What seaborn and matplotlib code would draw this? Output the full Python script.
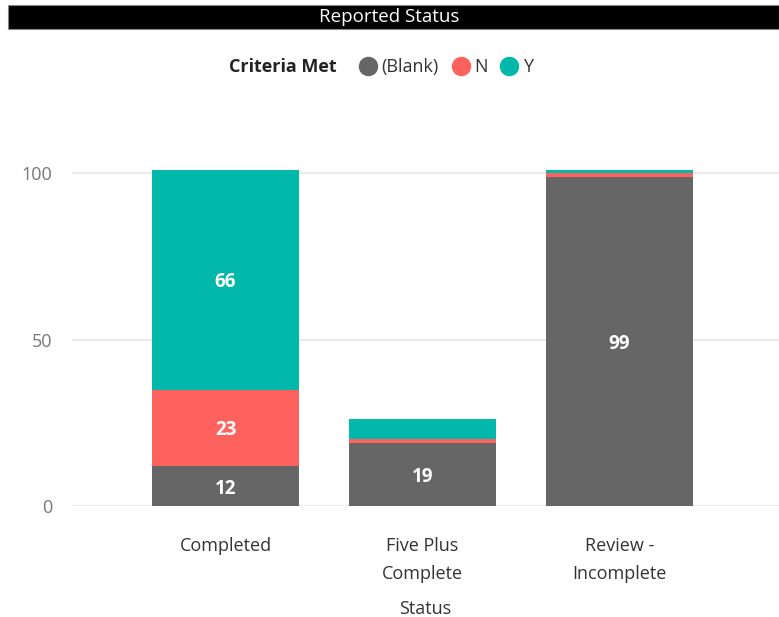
import pandas as pd
import seaborn as sns
import matplotlib.pyplot as plt
from matplotlib.patches import Rectangle
from matplotlib.lines import Line2D

# data
statuses = ['Completed', 'Five Plus\nComplete', 'Review -\nIncomplete']
blank = [12, 19, 99]
n_vals = [23, 1, 1]
y_vals = [66, 6, 1]
series = ['(Blank)', 'N', 'Y']
colors = ['#666666', '#FD625E', '#01B8AA']

sns.set_theme(style='white')
plt.rcParams['font.family'] = ['Open Sans', 'DejaVu Sans']

df = pd.DataFrame({'Status': statuses, 'Blank': blank, 'N': n_vals, 'Y': y_vals})
df['top_n'] = df['Blank'] + df['N']
df['top_y'] = df['top_n'] + df['Y']

fig = plt.figure(figsize=(7.79, 6.17), dpi=100)
ax = fig.add_axes([72 / 779, 1 - 506 / 617, 1 - 72 / 779, (506 - 150) / 617])

# stacked by drawing cumulative totals on top of each other
for col, c, z in [('top_y', colors[2], 2), ('top_n', colors[1], 3), ('Blank', colors[0], 4)]:
    sns.barplot(data=df, x='Status', y=col, color=c, width=0.75,
                saturation=1, linewidth=0, ax=ax, zorder=z)

ax.set_xlim(-0.78, 2.81)
ax.set_ylim(0, 107)
ax.set_yticks([0, 50, 100])
ax.yaxis.grid(True, color='#e6e6e6', linewidth=1.2, zorder=0)
ax.set_axisbelow(True)
sns.despine(ax=ax, left=True, bottom=True)
ax.tick_params(axis='y', length=0, pad=14, labelsize=13, labelcolor='#777777')
ax.tick_params(axis='x', length=0, pad=22, labelsize=13, labelcolor='#333333')
for lbl in ax.get_xticklabels():
    lbl.set_linespacing(1.75)
    lbl.set_verticalalignment('top')
ax.set_ylabel('')
ax.set_xlabel('Status', fontsize=13, color='#333333', labelpad=12)

# segment labels (only for segments big enough)
for i in range(len(statuses)):
    bottoms = [0, blank[i], blank[i] + n_vals[i]]
    for b, v in zip(bottoms, [blank[i], n_vals[i], y_vals[i]]):
        if v >= 10:
            ax.text(i, b + v / 2, str(v), ha='center', va='center_baseline',
                    color='white', fontsize=13.5, fontweight='bold', zorder=5)

# title bar
fig.patches.append(Rectangle((8 / 779, 1 - 29 / 617), 1 - 8 / 779, 24 / 617,
                             transform=fig.transFigure, facecolor='black',
                             edgecolor='#888888', linewidth=0.8))
fig.text(0.5, 1 - 17 / 617, 'Reported Status', ha='center', va='center',
         color='white', fontsize=13.5)

# legend
fig.text(337 / 779, 1 - 67 / 617, 'Criteria Met', ha='right', va='center',
         fontsize=13, fontweight='bold', color='#222222')
handles = [Line2D([0], [0], marker='o', linestyle='', markersize=13,
                  markerfacecolor=c, markeredgecolor=c) for c in colors]
fig.legend(handles, series, loc='center left', bbox_to_anchor=(350 / 779, 1 - 67 / 617),
           ncol=3, frameon=False, fontsize=13, handletextpad=0.25,
           columnspacing=0.7, borderpad=0, handlelength=1.0,
           labelcolor='#333333')

fig.savefig('out.png', dpi=100)
